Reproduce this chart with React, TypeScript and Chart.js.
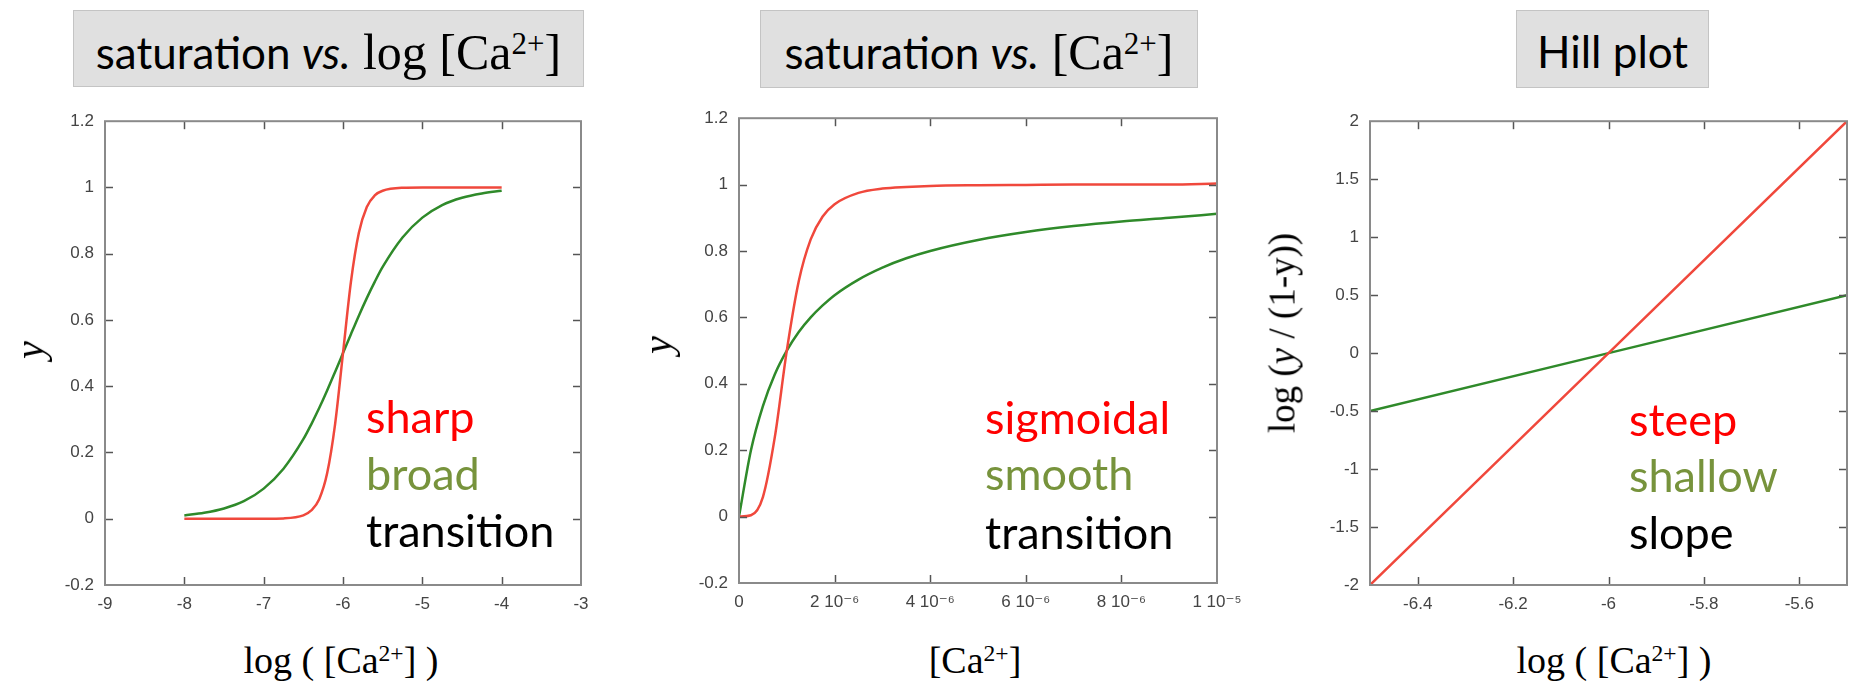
import React, { useEffect, useRef } from "react";
import { Chart, registerables } from "chart.js";

Chart.register(...registerables);

// ---------- Panel 1: saturation vs. log [Ca2+] ----------
const logCa1 = [-8, -7.75, -7.5, -7.25, -7, -6.75, -6.5, -6.4, -6.3, -6.2, -6.1, -6, -5.9, -5.8, -5.7, -5.6, -5.5, -5.25, -5, -4.75, -4.5, -4.25, -4];
const sharp1 = [0, 0, 0, 0, 0.0001, 0.001, 0.01, 0.025, 0.059, 0.137, 0.285, 0.5, 0.715, 0.863, 0.941, 0.976, 0.99, 0.999, 1, 1, 1, 1, 1];
const broad1 = [0.01, 0.018, 0.031, 0.053, 0.091, 0.151, 0.24, 0.285, 0.334, 0.387, 0.443, 0.5, 0.557, 0.613, 0.666, 0.715, 0.76, 0.849, 0.909, 0.947, 0.969, 0.982, 0.99];
const p1XTicks = [-9, -8, -7, -6, -5, -4, -3];
const p1XTickLabels = ["-9", "-8", "-7", "-6", "-5", "-4", "-3"];
const p1YTicks = [-0.2, 0, 0.2, 0.4, 0.6, 0.8, 1, 1.2];
const p1YTickLabels = ["-0.2", "0", "0.2", "0.4", "0.6", "0.8", "1", "1.2"];

// ---------- Panel 2: saturation vs. [Ca2+] ----------
const ca2 = [0, 0.25e-6, 0.5e-6, 0.75e-6, 1e-6, 1.25e-6, 1.5e-6, 1.75e-6, 2e-6, 2.5e-6, 3e-6, 3.5e-6, 4e-6, 5e-6, 6e-6, 7e-6, 8e-6, 9e-6, 1e-5];
const sigmoidal2 = [0, 0.004, 0.059, 0.24, 0.5, 0.709, 0.835, 0.904, 0.941, 0.975, 0.988, 0.993, 0.996, 0.998, 0.999, 1, 1, 1, 1.003];
const smooth2 = [0, 0.2, 0.333, 0.429, 0.5, 0.556, 0.6, 0.636, 0.667, 0.714, 0.75, 0.778, 0.8, 0.833, 0.857, 0.875, 0.889, 0.9, 0.912];
const p2XTicks = [0, 2e-6, 4e-6, 6e-6, 8e-6, 1e-5];
const p2XTickLabels = ["0", "2 10\u207B\u2076", "4 10\u207B\u2076", "6 10\u207B\u2076", "8 10\u207B\u2076", "1 10\u207B\u2075"];
const p2YTicks = [-0.2, 0, 0.2, 0.4, 0.6, 0.8, 1, 1.2];
const p2YTickLabels = ["-0.2", "0", "0.2", "0.4", "0.6", "0.8", "1", "1.2"];

// ---------- Panel 3: Hill plot ----------
const logCa3 = [-6.5, -6, -5.5];
const steep3 = [-2, 0, 2];
const shallow3 = [-0.5, 0, 0.5];
const p3XTicks = [-6.4, -6.2, -6, -5.8, -5.6];
const p3XTickLabels = ["-6.4", "-6.2", "-6", "-5.8", "-5.6"];
const p3YTicks = [-2, -1.5, -1, -0.5, 0, 0.5, 1, 1.5, 2];
const p3YTickLabels = ["-2", "-1.5", "-1", "-0.5", "0", "0.5", "1", "1.5", "2"];

const RED_LINE = "#f0483c";
const GREEN_LINE = "#2f8a2a";
const RED_TEXT = "#ff0000";
const GREEN_TEXT = "#77933c";

const framePlugin = {
  id: "frameTicks",
  afterDatasetsDraw(chart: any) {
    const { ctx, chartArea: a, scales } = chart;
    const L = 8;
    ctx.save();
    ctx.strokeStyle = "#555";
    ctx.lineWidth = 1.5;
    const line = (x1: number, y1: number, x2: number, y2: number) => {
      ctx.beginPath();
      ctx.moveTo(x1, y1);
      ctx.lineTo(x2, y2);
      ctx.stroke();
    };
    scales.x.ticks.forEach((t: any) => {
      const px = Math.round(scales.x.getPixelForValue(t.value)) + 0.5;
      if (px <= a.left + 2 || px >= a.right - 2) return;
      line(px, a.bottom, px, a.bottom - L);
      line(px, a.top, px, a.top + L);
    });
    scales.y.ticks.forEach((t: any) => {
      const py = Math.round(scales.y.getPixelForValue(t.value)) + 0.5;
      if (py <= a.top + 2 || py >= a.bottom - 2) return;
      line(a.left, py, a.left + L, py);
      line(a.right, py, a.right - L, py);
    });
    ctx.strokeStyle = "#8a8a8a";
    ctx.lineWidth = 2;
    ctx.strokeRect(a.left, a.top, a.right - a.left, a.bottom - a.top);
    ctx.restore();
  },
};

type PanelSpec = {
  xs: number[];
  series: { data: number[]; color: string; label: string }[];
  xMin: number;
  xMax: number;
  yMin: number;
  yMax: number;
  xTicks: number[];
  xLabels: string[];
  yTicks: number[];
  yLabels: string[];
  yAxisWidth: number;
  xAxisHeight: number;
  padTop: number;
  padRight: number;
};

function makeConfig(p: PanelSpec): any {
  const tickFont = { family: "'Liberation Sans', Arial, 'DejaVu Sans', sans-serif", size: 17 };
  return {
    type: "line",
    data: {
      datasets: p.series.map((s) => ({
        label: s.label,
        data: p.xs.map((x, i) => ({ x, y: s.data[i] })),
        borderColor: s.color,
        backgroundColor: s.color,
        borderWidth: 2.5,
        pointRadius: 0,
        cubicInterpolationMode: "monotone",
        fill: false,
      })),
    },
    options: {
      animation: false,
      responsive: false,
      maintainAspectRatio: false,
      events: [],
      layout: { padding: { top: p.padTop, right: p.padRight, left: 0, bottom: 0 } },
      plugins: { legend: { display: false }, tooltip: { enabled: false }, title: { display: false } },
      scales: {
        x: {
          type: "linear",
          min: p.xMin,
          max: p.xMax,
          afterBuildTicks: (s: any) => {
            s.ticks = p.xTicks.map((v) => ({ value: v }));
          },
          afterFit: (s: any) => {
            s.height = p.xAxisHeight;
          },
          grid: { display: false, drawTicks: false },
          border: { display: false },
          ticks: {
            autoSkip: false,
            maxRotation: 0,
            minRotation: 0,
            padding: 9,
            color: "#444",
            font: tickFont,
            callback: (_v: any, i: number) => p.xLabels[i],
          },
        },
        y: {
          type: "linear",
          min: p.yMin,
          max: p.yMax,
          afterBuildTicks: (s: any) => {
            s.ticks = p.yTicks.map((v) => ({ value: v }));
          },
          afterFit: (s: any) => {
            s.width = p.yAxisWidth;
          },
          grid: { display: false, drawTicks: false },
          border: { display: false },
          ticks: {
            autoSkip: false,
            padding: 11,
            color: "#444",
            font: tickFont,
            callback: (_v: any, i: number) => p.yLabels[i],
          },
        },
      },
    },
    plugins: [framePlugin],
  };
}

function ChartCanvas(props: { spec: PanelSpec; left: number; top: number; width: number; height: number }) {
  const ref = useRef<HTMLCanvasElement | null>(null);
  useEffect(() => {
    if (!ref.current) return;
    const chart = new Chart(ref.current, makeConfig(props.spec));
    return () => chart.destroy();
  }, []);
  return (
    <canvas
      ref={ref}
      width={props.width}
      height={props.height}
      style={{ position: "absolute", left: props.left, top: props.top, width: props.width, height: props.height }}
    />
  );
}

const SANS = "Lato, 'Open Sans', sans-serif";
const SERIF = "'Liberation Serif', 'Times New Roman', serif";

const Sup = (props: { children: any }) => (
  <span style={{ fontSize: "0.62em", position: "relative", top: "-0.5em" }}>{props.children}</span>
);

function TitleBox(props: { left: number; top: number; width: number; height: number; textTop: number; children: any }) {
  return (
    <div
      style={{
        position: "absolute",
        left: props.left,
        top: props.top,
        width: props.width,
        height: props.height,
        background: "#e0e0e0",
        border: "1.5px solid #c4c4c4",
        boxSizing: "border-box",
      }}
    >
      <div
        style={{
          position: "absolute",
          left: -40,
          right: -40,
          top: props.textTop,
          textAlign: "center",
          whiteSpace: "nowrap",
          lineHeight: 1,
          color: "#000",
        }}
      >
        {props.children}
      </div>
    </div>
  );
}

function Note(props: { left: number; baseline: number; color: string; text: string }) {
  const size = 45;
  return (
    <div
      style={{
        position: "absolute",
        left: props.left,
        top: props.baseline - size * 0.887,
        fontFamily: SANS,
        fontSize: size,
        lineHeight: 1,
        color: props.color,
        whiteSpace: "nowrap",
      }}
    >
      {props.text}
    </div>
  );
}

function XTitle(props: { cx: number; baseline: number; children: any }) {
  const size = 38;
  return (
    <div
      style={{
        position: "absolute",
        left: props.cx - 200,
        width: 400,
        textAlign: "center",
        top: props.baseline - size * 0.8375,
        fontFamily: SERIF,
        fontSize: size,
        lineHeight: 1,
        whiteSpace: "nowrap",
        color: "#000",
      }}
    >
      {props.children}
    </div>
  );
}

function YTitle(props: { cx: number; cy: number; size: number; children: any }) {
  return (
    <div
      style={{
        position: "absolute",
        left: props.cx,
        top: props.cy,
        transform: "translate(-50%, -50%) rotate(-90deg)",
        fontFamily: SERIF,
        fontSize: props.size,
        lineHeight: 1,
        whiteSpace: "nowrap",
        color: "#000",
      }}
    >
      {props.children}
    </div>
  );
}

const panel1: PanelSpec = {
  xs: logCa1,
  series: [
    { data: sharp1, color: RED_LINE, label: "sharp" },
    { data: broad1, color: GREEN_LINE, label: "broad" },
  ],
  xMin: -9,
  xMax: -3,
  yMin: -0.2,
  yMax: 1.2,
  xTicks: p1XTicks,
  xLabels: p1XTickLabels,
  yTicks: p1YTicks,
  yLabels: p1YTickLabels,
  yAxisWidth: 75,
  xAxisHeight: 45,
  padTop: 20,
  padRight: 29,
};

const panel2: PanelSpec = {
  xs: ca2,
  series: [
    { data: sigmoidal2, color: RED_LINE, label: "sigmoidal" },
    { data: smooth2, color: GREEN_LINE, label: "smooth" },
  ],
  xMin: 0,
  xMax: 1e-5,
  yMin: -0.2,
  yMax: 1.2,
  xTicks: p2XTicks,
  xLabels: p2XTickLabels,
  yTicks: p2YTicks,
  yLabels: p2YTickLabels,
  yAxisWidth: 75,
  xAxisHeight: 44,
  padTop: 20,
  padRight: 37,
};

const panel3: PanelSpec = {
  xs: logCa3,
  series: [
    { data: steep3, color: RED_LINE, label: "steep" },
    { data: shallow3, color: GREEN_LINE, label: "shallow" },
  ],
  xMin: -6.5,
  xMax: -5.5,
  yMin: -2,
  yMax: 2,
  xTicks: p3XTicks,
  xLabels: p3XTickLabels,
  yTicks: p3YTicks,
  yLabels: p3YTickLabels,
  yAxisWidth: 75,
  xAxisHeight: 45,
  padTop: 20,
  padRight: 9,
};

export default function App() {
  const titleSans = { fontFamily: SANS, fontSize: 44 };
  const titleSerif = { fontFamily: SERIF, fontSize: 50 };
  return (
    <div style={{ position: "absolute", left: 0, top: 0, width: 1856, height: 683, background: "#fff", overflow: "hidden" }}>
      <ChartCanvas spec={panel1} left={30} top={100} width={580} height={530} />
      <ChartCanvas spec={panel2} left={664} top={97} width={590} height={530} />
      <ChartCanvas spec={panel3} left={1295} top={100} width={561} height={530} />

      <TitleBox left={73} top={10} width={511} height={77} textTop={16}>
        <span style={titleSans}>saturation </span>
        <span style={{ ...titleSans, fontStyle: "italic" }}>vs.</span>
        <span style={titleSerif}>
          {" "}log [Ca<Sup>2+</Sup>]
        </span>
      </TitleBox>
      <TitleBox left={760} top={10} width={438} height={78} textTop={16}>
        <span style={titleSans}>saturation </span>
        <span style={{ ...titleSans, fontStyle: "italic" }}>vs.</span>
        <span style={titleSerif}>
          {" "}[Ca<Sup>2+</Sup>]
        </span>
      </TitleBox>
      <TitleBox left={1516} top={10} width={193} height={78} textTop={18}>
        <span style={{ fontFamily: SANS, fontSize: 44 }}>Hill plot</span>
      </TitleBox>

      <YTitle cx={30} cy={350} size={40}>
        <i>y</i>
      </YTitle>
      <YTitle cx={658} cy={345} size={40}>
        <i>y</i>
      </YTitle>
      <YTitle cx={1282} cy={333} size={37}>
        log (<i>y</i> / (1-y))
      </YTitle>

      <XTitle cx={341} baseline={673}>
        log ( [Ca<Sup>2+</Sup>] )
      </XTitle>
      <XTitle cx={975} baseline={673}>
        [Ca<Sup>2+</Sup>]
      </XTitle>
      <XTitle cx={1614} baseline={673}>
        log ( [Ca<Sup>2+</Sup>] )
      </XTitle>

      <Note left={366} baseline={434} color={RED_TEXT} text="sharp" />
      <Note left={366} baseline={491} color={GREEN_TEXT} text="broad" />
      <Note left={366} baseline={548} color="#000" text="transition" />

      <Note left={985} baseline={435} color={RED_TEXT} text="sigmoidal" />
      <Note left={985} baseline={491} color={GREEN_TEXT} text="smooth" />
      <Note left={985} baseline={550} color="#000" text="transition" />

      <Note left={1629} baseline={437} color={RED_TEXT} text="steep" />
      <Note left={1629} baseline={493} color={GREEN_TEXT} text="shallow" />
      <Note left={1629} baseline={550} color="#000" text="slope" />
    </div>
  );
}
